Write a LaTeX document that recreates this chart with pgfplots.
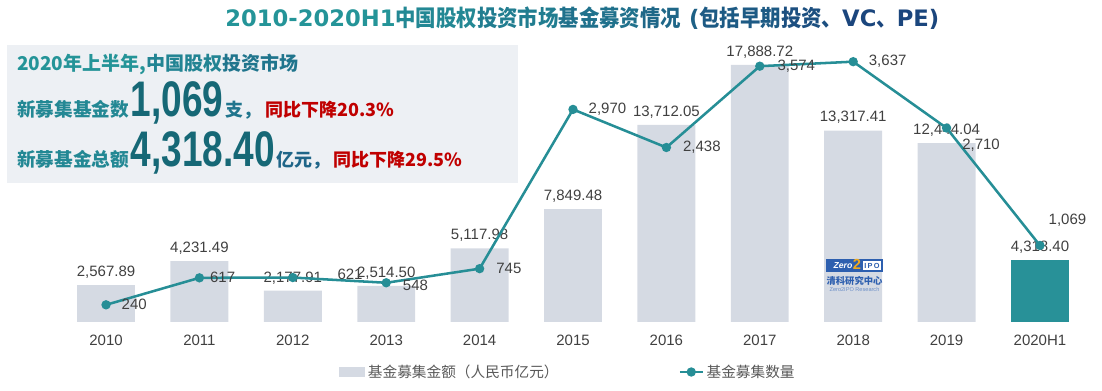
\documentclass[border=0pt]{standalone}
\usepackage{fontspec}
\usepackage{pgfplots}
\usepackage{pgfplotstable}
\pgfplotsset{compat=1.18}
\setmainfont{Liberation Sans}
\newfontfamily\cjk{Noto Sans CJK SC}
\newfontfamily\cjkT{Noto Sans CJK SC}[FakeStretch=0.9]
\newfontfamily\bignum{Liberation Sans}[FakeStretch=0.74]
\newfontfamily\titlelat{DejaVu Sans}
\newcommand\fs[1]{\fontsize{#1}{#1}\selectfont}
\newcommand\TL[1]{{\titlelat\bfseries #1}}
\newcommand\TC[1]{{\cjkT\bfseries #1}}

\definecolor{barc}{RGB}{213,218,227}
\definecolor{tealc}{RGB}{38,142,150}
\definecolor{lastbar}{RGB}{40,145,152}
\definecolor{lab}{RGB}{64,64,64}
\definecolor{legc}{RGB}{89,89,89}
\definecolor{boxc}{RGB}{237,240,244}
\definecolor{tA}{RGB}{36,148,152}
\definecolor{tB}{RGB}{27,70,125}
\definecolor{redc}{RGB}{192,0,0}
\definecolor{numc}{RGB}{22,104,118}
\definecolor{logob}{RGB}{45,95,175}
\definecolor{logoo}{RGB}{240,170,30}

\pgfplotstableread{
x y lab
0 2567.89 2,567.89
1 4231.49 4,231.49
2 2177.91 2,177.91
3 2514.50 2,514.50
4 5117.98 5,117.98
5 7849.48 7,849.48
6 13712.05 13,712.05
7 17888.72 17,888.72
8 13317.41 13,317.41
9 12444.04 12,444.04
}\bardata
\pgfplotstableread{
x y lab
10 4318.40 4,318.40
}\lastdata
\pgfplotstableread{
x y lab dx dy
0 240 240 10 0
1 617 617 5 0
2 621 621 39 3
3 548 548 11 -3
4 745 745 11 0
5 2970 2,970 10 0
6 2438 2,438 11 0
7 3574 3,574 12 0
8 3637 3,637 10 0
9 2710 2,710 10 -17
10 1069 1,069 3 25
}\linedata

\tikzset{lbl/.style={font=\fs{11.25pt}, text=lab}}
\pgfplotsset{
  geom/.style={scale only axis, width=784.5pt, height=211.5pt,
    at={(37.5pt,51.75pt)}, anchor=south west,
    xmin=-0.6, xmax=10.6, ymin=0, clip=false},
}

\begin{document}
\begin{tikzpicture}
\path[use as bounding box] (0,0) rectangle (826.5pt,293.25pt);

\begin{scope}[x=0.75pt,y=-0.75pt,shift={(0pt,293.25pt)}]
  % title
  \node[anchor=base west, inner sep=0] at (225,27) {\fs{17pt}%
    \textcolor{tA}{\TL{2010-2020H1}}%
    \textcolor{tA!85!tB}{\TC{中国股权}}%
    \textcolor{tA!70!tB}{\TC{投资市场}}%
    \textcolor{tA!55!tB}{\TC{基金募资}}%
    \textcolor{tA!42!tB}{\TC{情况}}%
    \textcolor{tA!35!tB}{\TL{~(}}%
    \textcolor{tA!25!tB}{\TC{包括早期}}%
    \textcolor{tA!12!tB}{\TC{投资、}}%
    \textcolor{tB}{\TL{VC}\TC{、}\TL{PE)}}};
  % info box
  \fill[boxc] (7,45) rectangle (518,183);
  \node[anchor=base west, inner sep=0] at (17,71) {\cjk\bfseries\fs{14.25pt}%
    \textcolor{tA}{2020年上半年,}\textcolor{tA!80!tB}{中国股权}\textcolor{tA!60!tB}{投资市场}};
  \node[anchor=base west, inner sep=0] at (17,117) {%
    {\cjk\bfseries\fs{14pt}\color{tA!85!tB}新募集基金数}\hspace{1pt}%
    {\bignum\bfseries\fs{37.5pt}\color{numc}1,069}\hspace{1.5pt}%
    {\cjk\bfseries\fs{13.5pt}\color{tA!60!tB}支，}\hspace{3pt}%
    {\cjk\bfseries\fs{13.5pt}\color{redc}同比下降20.3\%}};
  \node[anchor=base west, inner sep=0] at (17,167) {%
    {\cjk\bfseries\fs{14pt}\color{tA!85!tB}新募基金总额}\hspace{1pt}%
    {\bignum\bfseries\fs{37.5pt}\color{numc}4,318.40}\hspace{1.5pt}%
    {\cjk\bfseries\fs{13.5pt}\color{tA!40!tB}亿元，}\hspace{2pt}%
    {\cjk\bfseries\fs{13.5pt}\color{redc}同比下降29.5\%}};
\end{scope}

\begin{axis}[geom, ymax=19624,
  axis line style={draw=none}, ytick=\empty,
  xtick={0,...,10},
  xticklabels={2010,2011,2012,2013,2014,2015,2016,2017,2018,2019,2020H1},
  major tick length=0pt,
  xticklabel style={anchor=base, yshift=-17.6pt, lbl},
  legend columns=2,
  legend style={at={(0.2763,-0.1773)}, anchor=west, draw=none, fill=none,
    inner sep=0pt, font=\cjk\fs{11pt}, text=legc,
    /tikz/every even column/.append style={column sep=88pt}},
  legend cell align=left,
]
\addplot[fill=barc, draw=none, ybar, bar width=0.62,
  nodes near coords={\pgfplotspointmeta}, point meta=explicit symbolic,
  every node near coord/.append style={anchor=base, yshift=6.5pt, lbl},
  legend image code/.code={\fill[barc] (0pt,-3.4pt) rectangle (19.5pt,3.4pt);}]
  table[x=x,y=y,meta=lab]{\bardata};
\addlegendentry{基金募集金额（人民币亿元）}
\addplot[fill=lastbar, draw=none, ybar, bar width=0.62, forget plot,
  nodes near coords={\pgfplotspointmeta}, point meta=explicit symbolic,
  every node near coord/.append style={anchor=base, yshift=6.5pt, lbl}]
  table[x=x,y=y,meta=lab]{\lastdata};
\addlegendimage{tealc, line width=1.9pt, mark=*, mark size=2.5pt, mark options={fill=tealc, draw=tealc}}
\addlegendentry{基金募集数量}
\end{axis}

\begin{axis}[geom, ymax=3940, hide axis]
\addplot[tealc, line width=1.9pt, mark=*, mark size=2.5pt,
  mark options={fill=tealc, draw=tealc},
  nodes near coords={\pgfplotspointmeta}, point meta=explicit symbolic,
  visualization depends on={\thisrow{dx}\as\dx},
  visualization depends on={\thisrow{dy}\as\dy},
  every node near coord/.append style={anchor=west, xshift=\dx*0.75pt, yshift=\dy*0.75pt, lbl}]
  table[x=x,y=y,meta=lab]{\linedata};
\end{axis}

\begin{scope}[x=0.75pt,y=-0.75pt,shift={(0pt,293.25pt)}]
  % logo in 2018 bar
  \fill[logob] (826,259) rectangle (883,272);
  \fill[white] (863,261) rectangle (881,270);
  \node[inner sep=0, text=white] at (843,265.5) {\bfseries\itshape\fs{6.5pt}Zero};
  \node[inner sep=0, text=logoo] at (857,264) {\bfseries\fs{11pt}2};
  \node[inner sep=0, text=logob] at (872,265.5) {\bfseries\fs{5.5pt}I\,P\,O};
  \node[inner sep=0, text=logob] at (854.5,281) {\cjk\bfseries\fs{7pt}清科研究中心};
  \node[inner sep=0, text=logob!70] at (854.5,290) {\fs{4.2pt}Zero2IPO Research};
\end{scope}
\end{tikzpicture}
\end{document}
